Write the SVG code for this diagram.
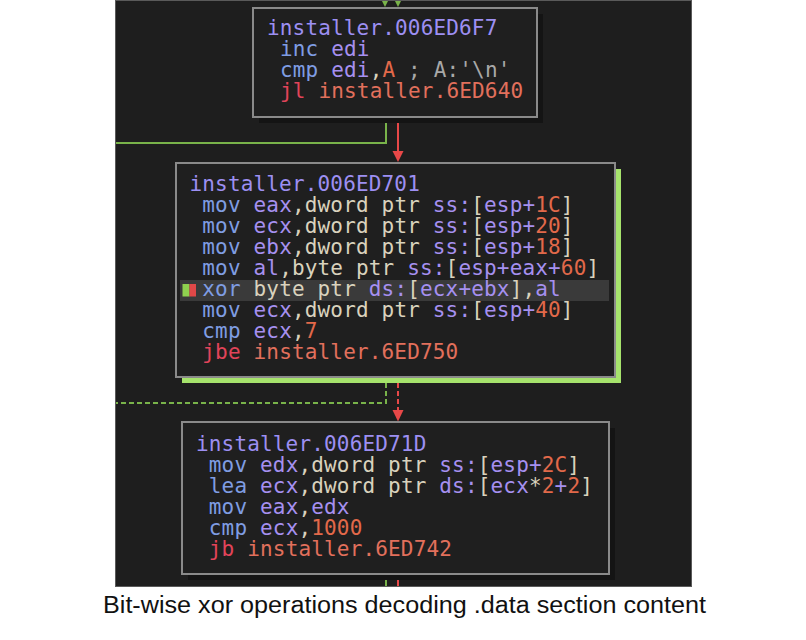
<svg xmlns="http://www.w3.org/2000/svg" width="806" height="640" viewBox="0 0 806 640" xml:space="preserve">
<style>
.t{font-family:"DejaVu Sans Mono","Liberation Mono",monospace;font-size:21px;letter-spacing:0.16px}
.lb{fill:#9d8ff2}.mn{fill:#7f9de3}.rg{fill:#a690f0}.kw{fill:#d9d2bd}.nm{fill:#e2694a}.jm{fill:#e2445a}.ja{fill:#e2705c}.cm{fill:#a8a8a8}
.box{fill:#1f1f1f;stroke:#8a8a8a;stroke-width:2}
.shd{fill:#141414}
.g{fill:none;stroke:#79b34a;stroke-width:2}
.r{fill:none;stroke:#e84848;stroke-width:2}
.dash{stroke-dasharray:5 3}
.cap{font-family:"Liberation Sans","DejaVu Sans",sans-serif;font-size:23px;fill:#111}
</style>
<rect x="0" y="0" width="806" height="640" fill="#ffffff"/>
<rect x="115.5" y="0.5" width="576" height="586" fill="#1e1e1e" stroke="#5a5a5a" stroke-width="1"/>
<g id="connectors">
<polygon points="382,1 388,1 385,7" fill="#79b34a"/>
<polygon points="395,1 401,1 398,7" fill="#79b34a"/>
<path class="g" d="M386 117 V143 H116"/>
<path class="r" d="M398 117 V152"/>
<polygon points="392.5,151 403.5,151 398,162" fill="#e84848"/>
<path class="g dash" d="M386 383 V403 H116"/>
<path class="r dash" d="M398 383 V411"/>
<polygon points="392.5,410 403.5,410 398,421.5" fill="#e84848"/>
<path class="g" d="M386 580 V586"/>
<path class="r" d="M398 574 V586"/>
</g>
<g id="node1">
<rect class="shd" x="259" y="14" width="284" height="109"/>
<rect class="box" x="253" y="8" width="284" height="109"/>
<text class="t" x="267" y="35"><tspan class="lb">installer.006ED6F7</tspan></text>
<text class="t" x="280" y="56"><tspan class="mn">inc</tspan> <tspan class="rg">edi</tspan></text>
<text class="t" x="280" y="77"><tspan class="mn">cmp</tspan> <tspan class="rg">edi</tspan><tspan class="kw">,</tspan><tspan class="nm">A</tspan><tspan class="cm"> ; A:'\n'</tspan></text>
<text class="t" x="280" y="98"><tspan class="jm">jl</tspan> <tspan class="ja">installer.6ED640</tspan></text>
</g>
<g id="node2">
<rect x="182" y="169" width="439" height="214" fill="#a6e36c"/>
<rect class="box" x="176" y="163" width="439" height="214"/>
<rect x="180" y="280" width="429" height="21" fill="#3a3a3a"/>
<rect x="182.5" y="284" width="7" height="12.5" fill="#8fd14f"/>
<rect x="189.5" y="284" width="6.5" height="12.5" fill="#e04848"/>
<text class="t" x="189.5" y="191"><tspan class="lb">installer.006ED701</tspan></text>
<text class="t" x="202.3" y="212"><tspan class="mn">mov</tspan> <tspan class="rg">eax</tspan><tspan class="kw">,dword ptr</tspan> <tspan class="rg">ss:</tspan><tspan class="kw">[</tspan><tspan class="rg">esp+</tspan><tspan class="nm">1C</tspan><tspan class="kw">]</tspan></text>
<text class="t" x="202.3" y="233"><tspan class="mn">mov</tspan> <tspan class="rg">ecx</tspan><tspan class="kw">,dword ptr</tspan> <tspan class="rg">ss:</tspan><tspan class="kw">[</tspan><tspan class="rg">esp+</tspan><tspan class="nm">20</tspan><tspan class="kw">]</tspan></text>
<text class="t" x="202.3" y="254"><tspan class="mn">mov</tspan> <tspan class="rg">ebx</tspan><tspan class="kw">,dword ptr</tspan> <tspan class="rg">ss:</tspan><tspan class="kw">[</tspan><tspan class="rg">esp+</tspan><tspan class="nm">18</tspan><tspan class="kw">]</tspan></text>
<text class="t" x="202.3" y="275"><tspan class="mn">mov</tspan> <tspan class="rg">al</tspan><tspan class="kw">,byte ptr</tspan> <tspan class="rg">ss:</tspan><tspan class="kw">[</tspan><tspan class="rg">esp+eax+</tspan><tspan class="nm">60</tspan><tspan class="kw">]</tspan></text>
<text class="t" x="202.3" y="296"><tspan class="mn">xor</tspan> <tspan class="kw">byte ptr</tspan> <tspan class="rg">ds:</tspan><tspan class="kw">[</tspan><tspan class="rg">ecx+ebx</tspan><tspan class="kw">],</tspan><tspan class="rg">al</tspan></text>
<text class="t" x="202.3" y="317"><tspan class="mn">mov</tspan> <tspan class="rg">ecx</tspan><tspan class="kw">,dword ptr</tspan> <tspan class="rg">ss:</tspan><tspan class="kw">[</tspan><tspan class="rg">esp+</tspan><tspan class="nm">40</tspan><tspan class="kw">]</tspan></text>
<text class="t" x="202.3" y="338"><tspan class="mn">cmp</tspan> <tspan class="rg">ecx</tspan><tspan class="kw">,</tspan><tspan class="nm">7</tspan></text>
<text class="t" x="202.3" y="359"><tspan class="jm">jbe</tspan> <tspan class="ja">installer.6ED750</tspan></text>
</g>
<g id="node3">
<rect class="shd" x="188" y="428" width="427" height="152"/>
<rect class="box" x="182" y="422" width="427" height="152"/>
<text class="t" x="196" y="451"><tspan class="lb">installer.006ED71D</tspan></text>
<text class="t" x="208.8" y="472"><tspan class="mn">mov</tspan> <tspan class="rg">edx</tspan><tspan class="kw">,dword ptr</tspan> <tspan class="rg">ss:</tspan><tspan class="kw">[</tspan><tspan class="rg">esp+</tspan><tspan class="nm">2C</tspan><tspan class="kw">]</tspan></text>
<text class="t" x="208.8" y="493"><tspan class="mn">lea</tspan> <tspan class="rg">ecx</tspan><tspan class="kw">,dword ptr</tspan> <tspan class="rg">ds:</tspan><tspan class="kw">[</tspan><tspan class="rg">ecx</tspan><tspan class="kw">*</tspan><tspan class="nm">2</tspan><tspan class="rg">+</tspan><tspan class="nm">2</tspan><tspan class="kw">]</tspan></text>
<text class="t" x="208.8" y="514"><tspan class="mn">mov</tspan> <tspan class="rg">eax</tspan><tspan class="kw">,</tspan><tspan class="rg">edx</tspan></text>
<text class="t" x="208.8" y="535"><tspan class="mn">cmp</tspan> <tspan class="rg">ecx</tspan><tspan class="kw">,</tspan><tspan class="nm">1000</tspan></text>
<text class="t" x="208.8" y="556"><tspan class="jm">jb</tspan> <tspan class="ja">installer.6ED742</tspan></text>
</g>
<text class="cap" x="404.5" y="613" text-anchor="middle" textLength="603" lengthAdjust="spacingAndGlyphs">Bit-wise xor operations decoding .data section content</text>
</svg>
